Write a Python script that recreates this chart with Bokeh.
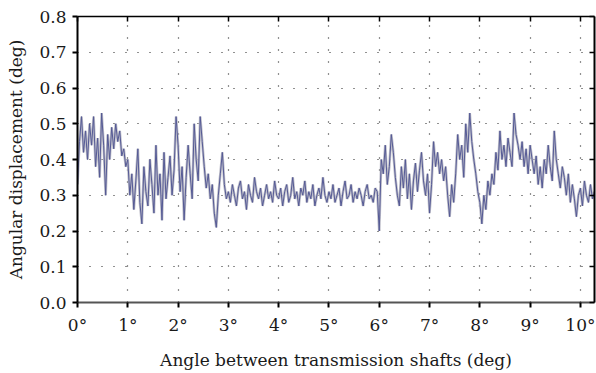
from bokeh.plotting import figure
from bokeh.models import Range1d, LinearAxis, FixedTicker, NumeralTickFormatter, ColumnDataSource
from bokeh.embed import file_html
from bokeh.resources import INLINE

step = 0.04
disp = [
    # 0 deg
    0.33, 0.45, 0.52, 0.42, 0.48, 0.40, 0.50, 0.44, 0.52, 0.38, 0.46, 0.35, 0.53, 0.44, 0.30, 0.47, 0.40, 0.49, 0.43, 0.50, 0.45, 0.48, 0.41, 0.43, 0.38,
    # 1 deg
    0.40, 0.30, 0.36, 0.26, 0.34, 0.43, 0.28, 0.22, 0.38, 0.31, 0.27, 0.40, 0.33, 0.25, 0.44, 0.30, 0.36, 0.23, 0.42, 0.29, 0.35, 0.41, 0.30, 0.37, 0.52,
    # 2 deg
    0.44, 0.31, 0.38, 0.23, 0.35, 0.44, 0.36, 0.29, 0.50, 0.40, 0.34, 0.52, 0.45, 0.38, 0.32, 0.36, 0.29, 0.33, 0.25, 0.21, 0.30, 0.36, 0.42, 0.33, 0.29,
    # 3 deg
    0.31, 0.28, 0.33, 0.30, 0.27, 0.32, 0.34, 0.29, 0.31, 0.26, 0.33, 0.30, 0.28, 0.35, 0.31, 0.29, 0.32, 0.27, 0.30, 0.33, 0.29, 0.31, 0.28, 0.34, 0.30,
    # 4 deg
    0.29, 0.32, 0.27, 0.31, 0.33, 0.28, 0.30, 0.35, 0.29, 0.31, 0.27, 0.32, 0.30, 0.34, 0.28, 0.31, 0.29, 0.33, 0.27, 0.30, 0.32, 0.29, 0.35, 0.30, 0.28,
    # 5 deg
    0.31, 0.29, 0.33, 0.28, 0.30, 0.32, 0.27, 0.31, 0.34, 0.29, 0.30, 0.33, 0.28, 0.31, 0.29, 0.32, 0.30, 0.27, 0.31, 0.33, 0.29, 0.30, 0.28, 0.32, 0.31,
    # 6 deg
    0.20, 0.40, 0.36, 0.44, 0.33, 0.38, 0.47, 0.42, 0.35, 0.30, 0.27, 0.38, 0.32, 0.40, 0.29, 0.36, 0.26, 0.34, 0.39, 0.31, 0.37, 0.42, 0.34, 0.30, 0.36,
    # 7 deg
    0.25, 0.33, 0.45, 0.38, 0.42, 0.36, 0.40, 0.34, 0.38, 0.30, 0.24, 0.33, 0.28, 0.36, 0.47, 0.40, 0.44, 0.35, 0.50, 0.42, 0.53, 0.45, 0.40, 0.36, 0.31,
    # 8 deg
    0.28, 0.22, 0.30, 0.26, 0.34, 0.30, 0.36, 0.33, 0.42, 0.37, 0.48, 0.40, 0.44, 0.38, 0.46, 0.42, 0.38, 0.53, 0.47, 0.44, 0.40, 0.45, 0.38, 0.43, 0.36,
    # 9 deg
    0.44, 0.40, 0.36, 0.41, 0.33, 0.38, 0.32, 0.40, 0.36, 0.44, 0.38, 0.34, 0.48, 0.40, 0.36, 0.32, 0.38, 0.35, 0.30, 0.36, 0.28, 0.33, 0.29, 0.24, 0.30,
    # 10 deg
    0.32, 0.27, 0.34, 0.30, 0.28, 0.33, 0.29, 0.31,
]
angle = [round(i * step, 2) for i in range(len(disp))]

x_ticks = [0, 1, 2, 3, 4, 5, 6, 7, 8, 9, 10]
x_tick_labels = {t: f"{t}\u00b0" for t in x_ticks}
y_ticks = [0.0, 0.1, 0.2, 0.3, 0.4, 0.5, 0.6, 0.7, 0.8]

FONT = "DejaVu Serif"

p = figure(width=596, height=373, output_backend="svg", toolbar_location=None,
           x_range=Range1d(0, 10.28), y_range=Range1d(0, 0.8),
           min_border_left=77, min_border_right=2, min_border_top=16, min_border_bottom=71)
p.outline_line_color = None

src = ColumnDataSource(dict(x=angle, y=disp))
p.line("x", "y", source=src, line_color="#b8b8c4", line_width=2.6, line_alpha=0.9)
p.line("x", "y", source=src, line_color="#555a95", line_width=1.0)

# axes
xa = p.xaxis[0]
xa.ticker = FixedTicker(ticks=x_ticks)
xa.major_label_overrides = x_tick_labels
xa.axis_label = "Angle between transmission shafts (deg)"
ya = p.yaxis[0]
ya.ticker = FixedTicker(ticks=y_ticks)
ya.formatter = NumeralTickFormatter(format="0.0")
ya.axis_label = "Angular displacement (deg)"

for ax in (xa, ya):
    ax.major_label_text_font = FONT
    ax.major_label_text_font_size = "17px"
    ax.major_label_text_color = "#1a1a1a"
    ax.axis_label_text_font = FONT
    ax.axis_label_text_font_size = "17px"
    ax.axis_label_text_font_style = "normal"
    ax.axis_label_text_color = "#1a1a1a"
    ax.minor_tick_line_color = None
    ax.major_tick_in = 0
    ax.major_tick_out = 5
    ax.major_tick_line_width = 2
    ax.axis_line_width = 2
xa.axis_line_color = "#555555"
xa.major_label_standoff = 7
xa.axis_label_standoff = 12
ya.major_label_standoff = 6
ya.axis_label_standoff = 10

top = LinearAxis(ticker=FixedTicker(ticks=x_ticks), major_label_text_color=None,
                 major_tick_in=5, major_tick_out=0, minor_tick_line_color=None,
                 axis_line_width=1.5, major_tick_line_width=1.5, major_label_standoff=0)
p.add_layout(top, "above")
right = LinearAxis(ticker=FixedTicker(ticks=y_ticks), major_label_text_color=None,
                   major_tick_in=5, major_tick_out=0, minor_tick_line_color=None,
                   axis_line_width=2, major_tick_line_width=1.5, major_label_standoff=0)
p.add_layout(right, "right")

p.xgrid.ticker = FixedTicker(ticks=x_ticks)
p.ygrid.ticker = FixedTicker(ticks=y_ticks)
for g in (p.xgrid, p.ygrid):
    g.grid_line_color = "#222222"
    g.grid_line_dash = "1 11"
    g.grid_line_width = 1.2

open("out.html", "w").write(file_html(p, INLINE))
